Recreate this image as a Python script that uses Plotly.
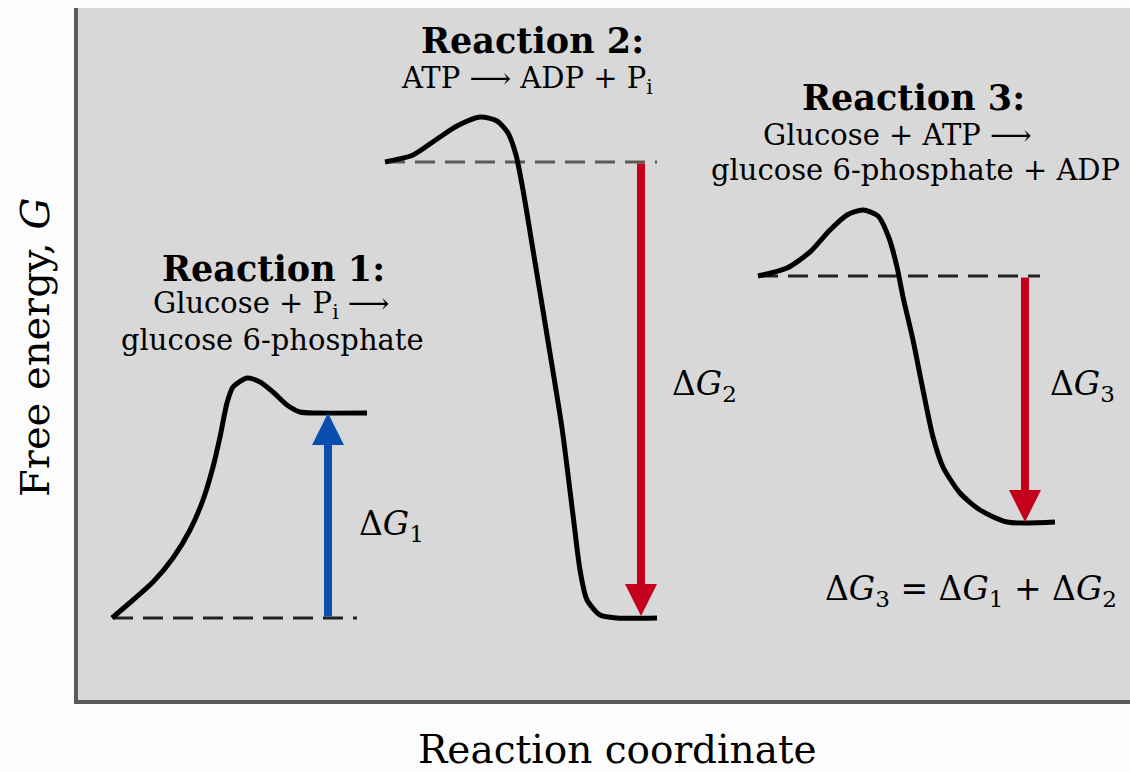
import plotly.graph_objects as go

# ---- data (x = reaction coordinate, G = free energy) ----
r1_x = [112, 133, 153, 173, 190, 203, 213, 220, 227, 233, 247, 260, 273, 287, 300, 317, 367]
r1_g = [82, 100, 118, 142, 170, 200, 233, 263, 297, 313, 322, 318, 308, 295, 288, 287, 287]

r2_x = [385, 413, 437, 457, 480, 497, 508, 516, 523, 533, 547, 562, 573, 580, 587, 600, 617, 657]
r2_g = [538, 545, 561, 574, 583, 579, 567, 545, 510, 450, 365, 272, 185, 130, 100, 85, 82, 82]

r3_x = [758, 787, 810, 830, 847, 863, 878, 889, 897, 903, 913, 923, 933, 943, 960, 980, 1007, 1055]
r3_g = [424, 432, 448, 470, 485, 490, 484, 462, 433, 403, 360, 310, 263, 233, 207, 190, 178, 178]

# reference (reactant) levels drawn dashed: [x_start, x_end], G
dash_x = [[113, 357], [385, 657], [758, 1040]]
dash_g = [82, 538, 424]
dash_col = ["#222222", "#5a5a5a", "#222222"]

# ΔG arrows: x, G_from, G_to, colour
arrow_x = [328, 641, 1025]
arrow_from = [82, 538, 424]
arrow_to = [287, 84, 178]
arrow_col = ["#0a4fb0", "#c4001c", "#c4001c"]

# text labels
titles = ["Reaction 1:", "Reaction 2:", "Reaction 3:"]
title_x = [273, 532, 913]
title_g = [432, 660, 603]

eqs = ["Glucose + P<sub>i</sub> ⟶", "glucose 6-phosphate",
       "ATP ⟶ ADP + P<sub>i</sub>",
       "Glucose + ATP ⟶", "glucose 6-phosphate + ADP"]
eq_x = [271, 272, 527, 897, 915]
eq_g = [395, 360, 620, 565, 530]

dg_text = ["Δ<i>G</i><sub>1</sub>", "Δ<i>G</i><sub>2</sub>", "Δ<i>G</i><sub>3</sub>",
           "Δ<i>G</i><sub>3</sub> = Δ<i>G</i><sub>1</sub> + Δ<i>G</i><sub>2</sub>"]
dg_x = [357, 670, 1048, 823]
dg_g = [175, 315, 315, 110]

x_title = "Reaction coordinate"
y_title = "Free energy, <i>G</i>"

SERIF = "DejaVu Serif"

fig = go.Figure()

for i in range(3):
    fig.add_trace(go.Scatter(x=dash_x[i], y=[dash_g[i]] * 2, mode="lines",
                             line=dict(color=dash_col[i], width=3, dash="20px,10px"),
                             hoverinfo="skip", showlegend=False))

for xs, gs in [(r1_x, r1_g), (r2_x, r2_g), (r3_x, r3_g)]:
    fig.add_trace(go.Scatter(x=xs, y=gs, mode="lines",
                             line=dict(color="black", width=5, shape="spline", smoothing=0.7),
                             hoverinfo="skip", showlegend=False))

for i in range(3):
    fig.add_annotation(x=arrow_x[i], y=arrow_to[i], ax=arrow_x[i], ay=arrow_from[i],
                       xref="x", yref="y", axref="x", ayref="y", text="",
                       showarrow=True, arrowhead=2, arrowsize=0.8, arrowwidth=8,
                       arrowcolor=arrow_col[i], standoff=0, startstandoff=0)

for t, x, g in zip(titles, title_x, title_g):
    fig.add_annotation(x=x, y=g, xref="x", yref="y", text="<b>" + t + "</b>",
                       showarrow=False, font=dict(family=SERIF, size=35, color="black"))

for t, x, g in zip(eqs, eq_x, eq_g):
    fig.add_annotation(x=x, y=g, xref="x", yref="y", text=t,
                       showarrow=False, font=dict(family=SERIF, size=29, color="black"))

for t, x, g in zip(dg_text, dg_x, dg_g):
    fig.add_annotation(x=x, y=g, xref="x", yref="y", text=t, xanchor="left",
                       showarrow=False, font=dict(family=SERIF, size=33, color="black"))

# axis titles
fig.add_annotation(x=617, y=-0.071, xref="x", yref="paper", text=x_title,
                   xanchor="center", yanchor="middle", showarrow=False,
                   font=dict(family=SERIF, size=39, color="black"))
fig.add_annotation(x=-0.041, y=0.51, xref="paper", yref="paper", text=y_title,
                   xanchor="center", yanchor="middle", textangle=-90, showarrow=False,
                   font=dict(family=SERIF, size=40, color="black"))

fig.update_layout(
    width=1130, height=772,
    margin=dict(l=78, r=0, t=8, b=72, autoexpand=False),
    paper_bgcolor="#fcfcfc", plot_bgcolor="#d8d8d8",
    showlegend=False,
    xaxis=dict(range=[78, 1130], showgrid=False, zeroline=False, showticklabels=False,
               ticks="", showline=True, linecolor="#5a5a5a", linewidth=4),
    yaxis=dict(range=[0, 692], showgrid=False, zeroline=False, showticklabels=False,
               ticks="", showline=True, linecolor="#5a5a5a", linewidth=4),
)

fig.write_html("out.html", config={"displayModeBar": False},
               post_script="document.body.style.margin='0';"
                           "document.body.style.overflow='hidden';")
